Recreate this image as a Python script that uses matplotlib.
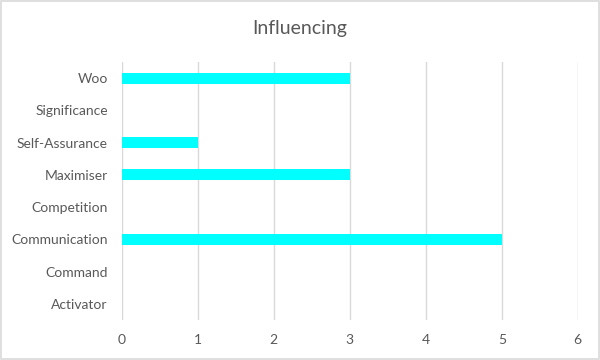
import matplotlib
matplotlib.use("Agg")
import matplotlib.pyplot as plt
from matplotlib.patches import Rectangle

categories = ["Activator", "Command", "Communication", "Competition",
              "Maximiser", "Self-Assurance", "Significance", "Woo"]
values = [0, 0, 5, 0, 3, 1, 0, 3]
x_ticks = [0, 1, 2, 3, 4, 5, 6]

plt.rcParams['font.family'] = ['Lato', 'DejaVu Sans']
grey = '#595959'

fig = plt.figure(figsize=(6, 3.6), dpi=100)
ax = fig.add_axes([0.203, 0.111, 0.76, 0.717])

ax.barh(range(len(categories)), values, height=0.34, color='#00FFFF', zorder=3)

ax.set_xlim(0, 6)
ax.set_ylim(-0.5, len(categories) - 0.5)
ax.set_xticks(x_ticks)
ax.set_yticks(range(len(categories)))
ax.set_yticklabels(categories)
ax.grid(axis='x', color='#d9d9d9', linewidth=1, zorder=0)
ax.tick_params(length=0, labelsize=10, colors=grey)
ax.tick_params(axis='y', pad=10)
ax.tick_params(axis='x', pad=10)
for s in ax.spines.values():
    s.set_visible(False)

fig.text(0.5, 0.92, "Influencing", ha='center', va='center', fontsize=14, color=grey)

# light outer frame like the chart area border
fig.patches.append(Rectangle((0.002, 0.003), 0.996, 0.994, transform=fig.transFigure,
                             fill=False, edgecolor='#d9d9d9', linewidth=1.2))

fig.savefig("out.png", dpi=100)
